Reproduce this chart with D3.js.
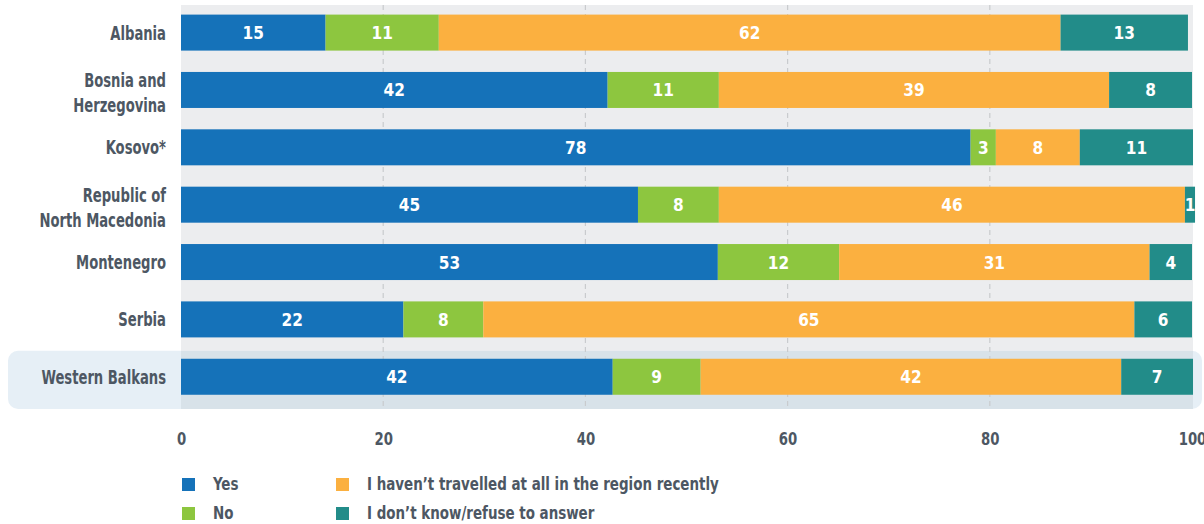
<!DOCTYPE html>
<html>
<head>
<meta charset="utf-8">
<script src="https://cdn.jsdelivr.net/npm/d3@7"></script>
<style>
  html, body { margin: 0; padding: 0; background: #ffffff; }
  svg { display: block; }
  text { font-family: 'Liberation Sans Narrow', 'DejaVu Sans Condensed', 'Arial Narrow', sans-serif; font-weight: bold; }
</style>
</head>
<body>
<svg id="chart" width="1204" height="524"></svg>
<script>
// ---- data ----
const categories = ["Albania", "Bosnia and Herzegovina", "Kosovo*", "Republic of North Macedonia", "Montenegro", "Serbia", "Western Balkans"];
const categoryLines = [["Albania"], ["Bosnia and", "Herzegovina"], ["Kosovo*"], ["Republic of", "North Macedonia"], ["Montenegro"], ["Serbia"], ["Western Balkans"]];
const seriesNames = ["Yes", "No", "I haven\u2019t travelled at all in the region recently", "I don\u2019t know/refuse to answer"];
// bar lengths (%)
const yesValues        = [14.3, 42.2, 78.1, 45.2, 53.1, 22.0, 42.7];
const noValues         = [11.2, 11.0,  2.5,  8.0, 12.0,  7.9,  8.7];
const notTravelledVals = [61.5, 38.6,  8.3, 46.1, 30.7, 64.4, 41.6];
const dontKnowValues   = [12.6,  8.2, 11.2,  1.0,  4.2,  5.7,  7.1];
// printed labels (rounded, as shown)
const yesLabels        = [15, 42, 78, 45, 53, 22, 42];
const noLabels         = [11, 11,  3,  8, 12,  8,  9];
const notTravelledLbls = [62, 39,  8, 46, 31, 65, 42];
const dontKnowLabels   = [13,  8, 11,  1,  4,  6,  7];
const xTicks = [0, 20, 40, 60, 80, 100];

const colors = ["#1572b9", "#8dc63f", "#fbb040", "#228c89"];
const textColor = "#4d5763";

// ---- build table ----
const seriesVals = [yesValues, noValues, notTravelledVals, dontKnowValues];
const seriesLbls = [yesLabels, noLabels, notTravelledLbls, dontKnowLabels];
const table = categories.map((c, i) => {
  const row = { category: c };
  seriesNames.forEach((s, k) => { row[s] = seriesVals[k][i]; });
  return row;
});
const stacked = d3.stack().keys(seriesNames)(table);

const svg = d3.select("#chart");

const x = d3.scaleLinear().domain([0, 100]).range([181, 1192]);
const step = 57.36, bw = 36;
const y = d3.scaleBand().domain(categories)
  .range([14.6, 14.6 + step * (categories.length - (1 - bw / step))])
  .paddingInner(1 - bw / step).paddingOuter(0);

const plotTop = 5, plotBottom = 409;

// highlight for Western Balkans
const wb = "Western Balkans";
const hlTop = y(wb) - 8, hlBot = plotBottom;
svg.append("rect")
  .attr("x", 8).attr("y", hlTop).attr("width", 1194).attr("height", hlBot - hlTop)
  .attr("rx", 10).attr("ry", 10).attr("fill", "#e6eff6");

// plot background
svg.append("rect")
  .attr("x", x(0)).attr("y", plotTop).attr("width", x(100) + 1 - x(0)).attr("height", hlTop - plotTop)
  .attr("fill", "#ecedef");
svg.append("rect")
  .attr("x", x(0)).attr("y", hlTop).attr("width", x(100) + 1 - x(0)).attr("height", hlBot - hlTop)
  .attr("fill", "#d8e2e9");

// gridlines
svg.append("g").selectAll("line")
  .data(xTicks.filter(t => t > 0 && t < 100))
  .join("line")
  .attr("x1", d => x(d)).attr("x2", d => x(d))
  .attr("y1", plotTop).attr("y2", plotBottom)
  .attr("stroke", "#c9cbce").attr("stroke-width", 1.2)
  .attr("stroke-dasharray", "5,4");

// bars
const layers = svg.append("g").selectAll("g")
  .data(stacked)
  .join("g")
  .attr("fill", (d, k) => colors[k]);

layers.selectAll("rect")
  .data(d => d)
  .join("rect")
  .attr("x", d => x(d[0]))
  .attr("y", d => y(d.data.category))
  .attr("width", d => x(d[1]) - x(d[0]))
  .attr("height", y.bandwidth());

// value labels
const labelG = svg.append("g");
stacked.forEach((layer, k) => {
  labelG.selectAll(null)
    .data(layer)
    .join("text")
    .attr("transform", d => `translate(${(x(d[0]) + x(d[1])) / 2},${y(d.data.category) + y.bandwidth() / 2 + 6.5}) scale(0.95,1)`)
    .attr("text-anchor", "middle")
    .attr("fill", "#ffffff")
    .attr("font-size", 18)
    .text((d, i) => seriesLbls[k][i]);
});

// category labels
const catG = svg.append("g");
categories.forEach((c, i) => {
  const lines = categoryLines[i];
  const cy = y(c) + y.bandwidth() / 2;
  const t = catG.append("text")
    .attr("transform", "translate(166,0) scale(0.77,1)")
    .attr("text-anchor", "end")
    .attr("fill", textColor)
    .attr("font-size", 19);
  if (lines.length === 1) {
    t.append("tspan").attr("x", 0).attr("y", cy + 7).text(lines[0]);
  } else {
    t.append("tspan").attr("x", 0).attr("y", cy - 3).text(lines[0]);
    t.append("tspan").attr("x", 0).attr("y", cy + 22).text(lines[1]);
  }
});

// x axis
const xAxis = d3.axisBottom(x).tickValues(xTicks).tickSize(0).tickPadding(0);
const axG = svg.append("g").attr("transform", "translate(0,431)").call(xAxis);
axG.select(".domain").remove();
axG.selectAll("text")
  .attr("fill", textColor)
  .attr("font-size", 18)
  .attr("font-family", null)
  .attr("dy", 0)
  .attr("y", 14)
  .attr("transform", "scale(0.82,1)");

// legend
const legendPos = [[182, 478], [182, 507], [336, 478], [336, 507]];
const legG = svg.append("g");
seriesNames.forEach((s, k) => {
  const [lx, ly] = legendPos[k];
  legG.append("rect").attr("x", lx).attr("y", ly).attr("width", 13).attr("height", 13).attr("fill", colors[k]);
  legG.append("text")
    .attr("transform", `translate(${lx + 31},${ly + 12}) scale(0.83,1)`)
    .attr("fill", textColor).attr("font-size", 18).text(s);
});
</script>
</body>
</html>
